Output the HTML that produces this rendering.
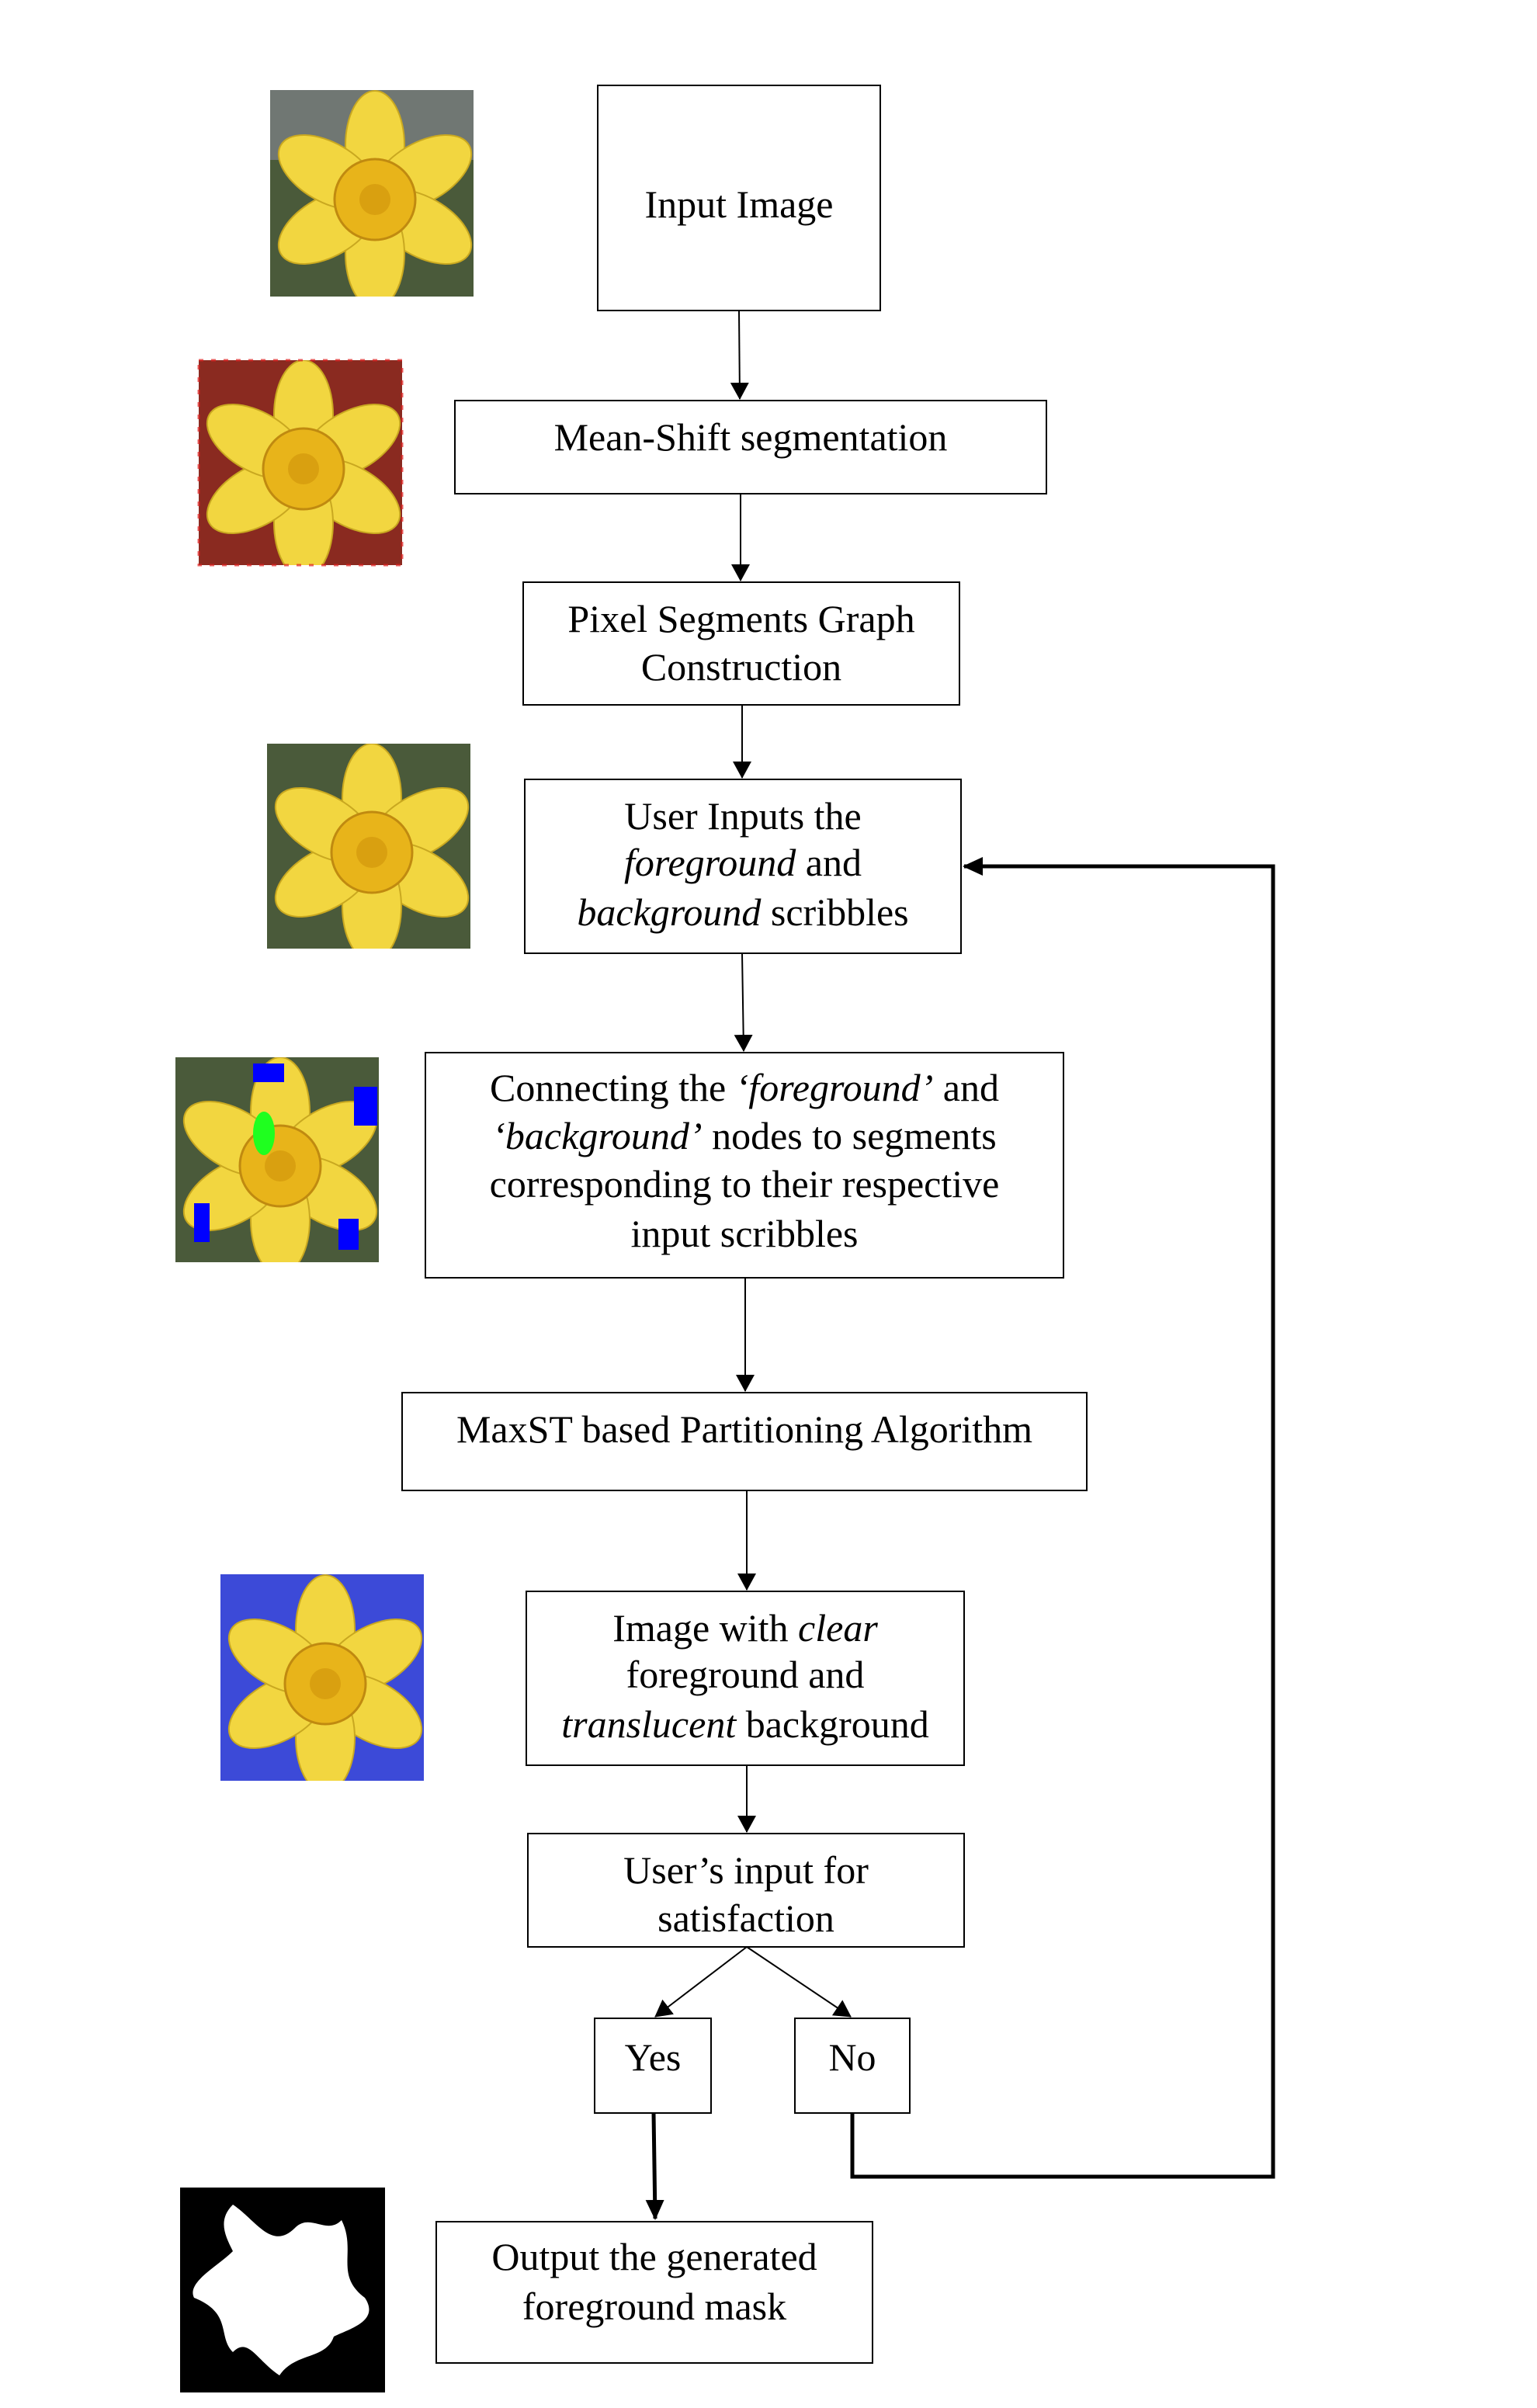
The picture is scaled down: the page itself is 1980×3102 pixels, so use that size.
<!DOCTYPE html>
<html><head><meta charset="utf-8"><style>
html,body{margin:0;padding:0;background:#fff}
svg{display:block}
text{font-family:"Liberation Serif",serif;font-size:50px;fill:#000}
</style></head><body>
<svg width="1980" height="3102" viewBox="0 0 1980 3102" xmlns="http://www.w3.org/2000/svg">
<defs>
<marker id="ah" markerWidth="22" markerHeight="24" refX="21" refY="12" orient="auto" markerUnits="userSpaceOnUse">
<path d="M0,0 L22,12 L0,24 z" fill="#000"/></marker>
<marker id="ahb" markerWidth="26" markerHeight="24" refX="24" refY="12" orient="auto" markerUnits="userSpaceOnUse">
<path d="M0,0 L26,12 L0,24 z" fill="#000"/></marker>
<symbol id="fl" viewBox="0 0 262 264">
<g transform="translate(135,140)">
<g fill="#f2d640" stroke="#c9a820" stroke-width="2">
<ellipse cx="0" cy="-70" rx="38" ry="70"/>
<ellipse cx="0" cy="-70" rx="38" ry="70" transform="rotate(60)"/>
<ellipse cx="0" cy="-70" rx="38" ry="70" transform="rotate(120)"/>
<ellipse cx="0" cy="-70" rx="38" ry="70" transform="rotate(180)"/>
<ellipse cx="0" cy="-70" rx="38" ry="70" transform="rotate(240)"/>
<ellipse cx="0" cy="-70" rx="38" ry="70" transform="rotate(300)"/>
</g>
<circle r="52" fill="#e8b41a" stroke="#c08a10" stroke-width="3"/>
<circle r="20" fill="#d9a010"/>
</g>
</symbol>
</defs>
<g fill="none" stroke="#000" stroke-width="2">
<rect x="770" y="110" width="364" height="290"/>
<rect x="586" y="516" width="762" height="120"/>
<rect x="674" y="750" width="562" height="158"/>
<rect x="676" y="1004" width="562" height="224"/>
<rect x="548" y="1356" width="822" height="290"/>
<rect x="518" y="1794" width="882" height="126"/>
<rect x="678" y="2050" width="564" height="224"/>
<rect x="680" y="2362" width="562" height="146"/>
<rect x="766" y="2600" width="150" height="122"/>
<rect x="1024" y="2600" width="148" height="122"/>
<rect x="562" y="2862" width="562" height="182"/>
<line x1="952" y1="400" x2="953" y2="514" marker-end="url(#ah)"/>
<line x1="954" y1="636" x2="954" y2="748" marker-end="url(#ah)"/>
<line x1="956" y1="908" x2="956" y2="1002" marker-end="url(#ah)"/>
<line x1="956" y1="1228" x2="958" y2="1354" marker-end="url(#ah)"/>
<line x1="960" y1="1646" x2="960" y2="1792" marker-end="url(#ah)"/>
<line x1="962" y1="1920" x2="962" y2="2048" marker-end="url(#ah)"/>
<line x1="962" y1="2274" x2="962" y2="2360" marker-end="url(#ah)"/>
<line x1="962" y1="2508" x2="844" y2="2598" marker-end="url(#ah)"/>
<line x1="962" y1="2508" x2="1096" y2="2598" marker-end="url(#ah)"/>
</g>
<g fill="none" stroke="#000" stroke-width="5">
<line x1="842" y1="2722" x2="844" y2="2858" marker-end="url(#ahb)"/>
<polyline points="1098,2722 1098,2804 1640,2804 1640,1116 1242,1116" marker-end="url(#ahb)"/>
</g>
<g text-anchor="middle">
<text x="952" y="280">Input Image</text>
<text x="967" y="580">Mean-Shift segmentation</text>
<text x="955" y="814">Pixel Segments Graph</text>
<text x="955" y="876">Construction</text>
<text x="957" y="1068">User Inputs the</text>
<text x="957" y="1128"><tspan font-style="italic">foreground</tspan> and</text>
<text x="957" y="1192"><tspan font-style="italic">background</tspan> scribbles</text>
<text x="959" y="1418">Connecting the <tspan font-style="italic">‘foreground’</tspan> and</text>
<text x="959" y="1480"><tspan font-style="italic">‘background’</tspan> nodes to segments</text>
<text x="959" y="1542">corresponding to their respective</text>
<text x="959" y="1606">input scribbles</text>
<text x="959" y="1858">MaxST based Partitioning Algorithm</text>
<text x="960" y="2114">Image with <tspan font-style="italic">clear</tspan></text>
<text x="960" y="2174">foreground and</text>
<text x="960" y="2238"><tspan font-style="italic">translucent</tspan> background</text>
<text x="961" y="2426">User’s input for</text>
<text x="961" y="2488">satisfaction</text>
<text x="841" y="2667">Yes</text>
<text x="1098" y="2667">No</text>
<text x="843" y="2924">Output the generated</text>
<text x="843" y="2988">foreground mask</text>
</g>
<rect x="348" y="116" width="262" height="266" fill="#4a5a3a"/>
<rect x="348" y="116" width="262" height="90" fill="#8a8a9a" opacity="0.6"/>
<use href="#fl" x="348" y="116" width="262" height="266"/>
<rect x="256" y="464" width="262" height="264" fill="#8a2a20"/>
<use href="#fl" x="256" y="464" width="262" height="264"/>
<rect x="256" y="464" width="262" height="264" fill="none" stroke="#e02020" stroke-width="3" stroke-dasharray="6 10" opacity="0.7"/>
<rect x="344" y="958" width="262" height="264" fill="#4a5a3a"/>
<use href="#fl" x="344" y="958" width="262" height="264"/>
<rect x="226" y="1362" width="262" height="264" fill="#4a5a3a"/>
<use href="#fl" x="226" y="1362" width="262" height="264"/>
<ellipse cx="340" cy="1460" rx="14" ry="28" fill="#1fff1f"/>
<rect x="456" y="1400" width="30" height="50" fill="#0000ff"/>
<rect x="326" y="1370" width="40" height="24" fill="#0000ff"/>
<rect x="250" y="1550" width="20" height="50" fill="#0000ff"/>
<rect x="436" y="1570" width="26" height="40" fill="#0000ff"/>
<rect x="284" y="2028" width="262" height="266" fill="#3c4ad8"/>
<use href="#fl" x="284" y="2028" width="262" height="266"/>
<rect x="232" y="2818" width="264" height="264" fill="#000"/>
<path d="M300,2840 C330,2860 350,2900 380,2870 C400,2850 420,2880 440,2860 C460,2900 430,2930 470,2960 C490,2990 450,3000 430,3010 C420,3040 380,3030 360,3060 C330,3040 320,3010 300,3030 C280,3010 300,2980 250,2960 C240,2940 280,2920 300,2900 C290,2880 280,2860 300,2840 z" fill="#fff"/>
</svg>
</body></html>
